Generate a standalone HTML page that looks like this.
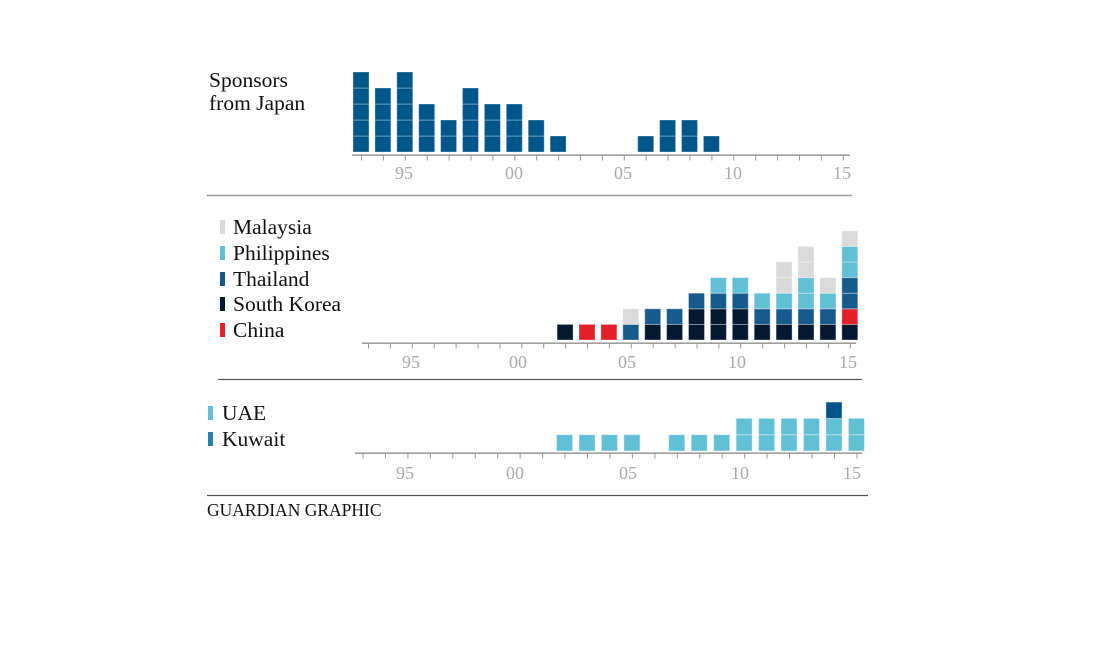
<!DOCTYPE html>
<html><head><meta charset="utf-8"><style>
html,body{margin:0;padding:0;background:#fff;}
svg{display:block;}
text{font-family:"Liberation Serif",serif;}
.t{fill:#aaa;font-size:18px;text-anchor:middle;}
.l{fill:#111;font-size:21.5px;}
</style></head><body>
<svg id="s" width="1100" height="660" viewBox="0 0 1100 660" xmlns="http://www.w3.org/2000/svg">
<text class="l" x="209" y="87">Sponsors</text>
<text class="l" x="209" y="110">from Japan</text>
<line x1="207" y1="195.5" x2="852" y2="195.5" stroke="#999" stroke-width="1.5"/>
<text class="t" x="404" y="179">95</text><text class="t" x="514" y="179">00</text><text class="t" x="623" y="179">05</text><text class="t" x="733" y="179">10</text><text class="t" x="842" y="179">15</text>

<rect x="220" y="220" width="5" height="14" fill="#dadada"/><text class="l" x="233" y="234">Malaysia</text>
<rect x="220" y="246" width="5" height="14" fill="#62c0d6"/><text class="l" x="233" y="260">Philippines</text>
<rect x="220" y="272" width="5" height="14" fill="#175a8c"/><text class="l" x="233" y="286">Thailand</text>
<rect x="220" y="297" width="5" height="14" fill="#041830"/><text class="l" x="233" y="311">South Korea</text>
<rect x="220" y="323" width="5" height="14" fill="#e32028"/><text class="l" x="233" y="337">China</text>
<line x1="218" y1="379.5" x2="862" y2="379.5" stroke="#555" stroke-width="1.2"/>
<text class="t" x="411" y="368">95</text><text class="t" x="518" y="368">00</text><text class="t" x="627" y="368">05</text><text class="t" x="737" y="368">10</text><text class="t" x="848" y="368">15</text>

<rect x="208" y="406" width="5" height="14" fill="#62c0d6"/><text class="l" x="222" y="420">UAE</text>
<rect x="208" y="432" width="5" height="14" fill="#2a7fb5"/><text class="l" x="222" y="446">Kuwait</text>
<text class="t" x="405" y="479">95</text><text class="t" x="515" y="479">00</text><text class="t" x="628" y="479">05</text><text class="t" x="740" y="479">10</text><text class="t" x="852" y="479">15</text>
<line x1="207" y1="495.5" x2="868" y2="495.5" stroke="#555" stroke-width="1.2"/>
<text x="207" y="516" style="font-size:17.5px;fill:#111">GUARDIAN GRAPHIC</text>
</svg>
<script>
var s=document.getElementById('s'),NS='http://www.w3.org/2000/svg';
function r(x,y,w,h,f,st){var e=document.createElementNS(NS,'rect');e.setAttribute('x',x);e.setAttribute('y',y);e.setAttribute('width',w);e.setAttribute('height',h);e.setAttribute('fill',f);if(st){e.setAttribute('stroke',st);e.setAttribute('stroke-width',1);}s.appendChild(e);}
function axis(x1,x2,y,x0,step){r(x1,y,x2-x1,1.3,'#888');for(var i=0;i<=22;i++){r(x0+8+i*step,y+1,1,5,'#999');}}
function chart(data,x0,step,base,rh,w){for(var k in data){var col=data[k];for(var j=0;j<col.length;j++){r(x0+(k-1993)*step,base-(j+1)*rh,w,rh,col[j],'rgba(255,255,255,0.35)');}}}
var J='#00558a',K='#041830',C='#e32028',T='#175a8c',P='#62c0d6',M='#dadada';
var jp={1993:5,1994:4,1995:5,1996:3,1997:2,1998:4,1999:3,2000:3,2001:2,2002:1,2006:1,2007:2,2008:2,2009:1},jd={};
for(var y in jp){jd[y]=[];for(var i=0;i<jp[y];i++)jd[y].push(J);}
axis(352,850,154.5,353,21.9);chart(jd,353,21.9,152,16,16);
var md={2002:[K],2003:[C],2004:[C],2005:[T,M],2006:[K,T],2007:[K,T],2008:[K,K,T],2009:[K,K,T,P],2010:[K,K,T,P],2011:[K,T,P],2012:[K,T,P,M,M],2013:[K,T,P,P,M,M],2014:[K,T,P,M],2015:[K,C,T,T,P,P,M]};
axis(362,856,342.5,360,21.9);chart(md,360,21.9,340,15.6,16);
var U='#62c0d6',bd={2002:[U],2003:[U],2004:[U],2005:[U],2007:[U],2008:[U],2009:[U],2010:[U,U],2011:[U,U],2012:[U,U],2013:[U,U],2014:[U,U,J],2015:[U,U]};
axis(355,862,452.5,354.5,22.45);chart(bd,354.5,22.45,451,16.3,16);
</script>
</body></html>
